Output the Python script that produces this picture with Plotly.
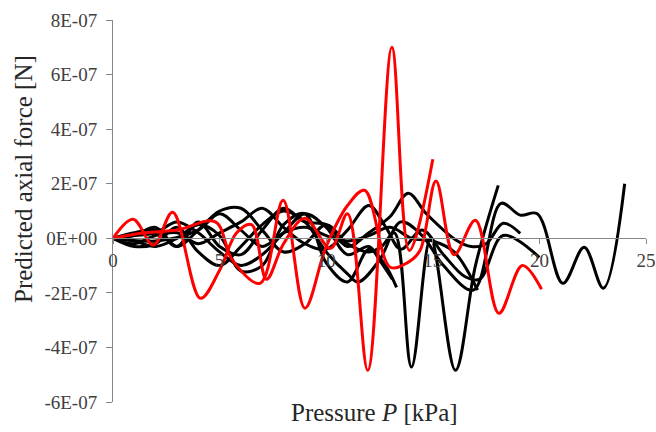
import plotly.graph_objects as go

# Units of y lists: 1e-7 N
red1_x = [0, 0.94, 1.9, 2.8, 4.1, 5.0, 5.8, 6.5, 7.2, 8.0, 9.0, 10.2, 11.0, 11.95, 13.08, 13.9, 15.0]
red1_y = [0, 0.7, -0.25, 0.95, -2.2, -1.17, 0.2, 0.5, -1.5, -0.2, 0.73, -0.37, 0.9, -4.84, 7.0, -0.45, 2.9]

red2_x = [0, 1.5, 3.0, 4.8, 5.6, 6.9, 7.98, 9.0, 10.0, 11.0, 11.8, 13.0, 13.8, 14.4, 15.15, 16.0, 17.0, 18.1, 19.2, 20.1]
red2_y = [0, 0.2, 0.3, 0.6, -0.8, -1.65, 1.39, -2.56, -0.3, 1.2, 1.76, -1.06, -0.9, -0.45, 2.1, -0.6, 0.66, -2.75, -1.0, -1.87]

blk1_x = [0, 1, 2, 3, 4, 5, 6, 7, 8, 9, 10, 11, 11.5, 12.5, 13.5, 14.5, 15.5, 16.9, 18.2, 19.1, 19.9, 21.1, 22.1, 23.0, 24.0]
blk1_y = [0, -0.3, -0.2, 0.4, -0.5, -1.0, -0.3, 0.5, 1.0, 0.6, -0.5, -1.3, -1.6, -0.8, 0.6, 0.1, -1.0, -1.9, 1.28, 0.85, 0.9, -1.65, -0.33, -1.83, 2.0]

blk2_x = [0, 1, 2, 3, 4, 5, 6, 7, 8, 9, 10, 11, 12, 12.6, 13.2, 14.0, 14.9, 16.06, 17.0, 18.07]
blk2_y = [0, 0.1, 0.4, -0.3, 0.3, 1.0, 1.1, 0.3, -0.5, -0.2, 0.5, -0.2, -0.5, -0.3, 0.2, -4.72, 0.0, -4.84, -1.0, 1.94]

blk3_x = [0, 1, 2, 3, 4, 5, 6, 7, 8, 9, 10, 11, 12, 13, 13.85, 14.7, 16.1, 16.8, 17.5, 18.3, 19.1]
blk3_y = [0, 0.2, 0.3, -0.3, 0.6, -0.3, -0.6, 0.3, 1.1, 0.6, 0.5, -0.3, 0.2, 0.8, 1.65, 0.9, -0.07, -0.3, -0.2, 0.55, 0.18]

blk4_x = [0, 1, 2, 3, 4, 5, 6, 7, 8, 9, 10, 11, 12, 12.8, 13.5, 14.5, 15.5, 16.5, 17.2, 18.3, 20.0]
blk4_y = [0, -0.2, 0.1, 0.2, -0.2, 0.2, 0.6, 1.1, 0.4, -0.2, -0.4, 0.3, 1.2, 0.4, -0.4, 0.3, -0.6, -1.4, -1.5, 0.1, -0.7]

blk5_x = [0, 1, 2, 3, 4, 5, 6, 7, 8, 9, 10, 11, 12, 12.5, 13.1]
blk5_y = [0, 0.1, 0.2, 0.6, 0.2, -0.5, -1.0, -0.6, 0.2, 0.9, 0.4, -0.6, -0.3, -0.8, -1.5]

blk6_x = [0, 2, 4, 5, 6, 7, 8, 9, 10, 11, 12, 13, 14, 15, 16, 17.1]
blk6_y = [0, -0.1, 0.3, 0.9, 0.3, -0.3, 0.2, 0.4, 0.1, -0.1, 0.1, 0.4, 0.0, -0.1, -0.5, -1.9]

blk7_x = [0, 1, 2, 3, 4, 5, 6, 7, 8, 9, 10, 11, 12, 12.7, 13.3]
blk7_y = [0, -0.1, -0.3, 0.0, 0.5, 0.1, -1.2, -1.0, 0.5, 0.9, -0.9, -1.6, -0.4, -0.9, -1.8]

y_tickvals = [-6, -4, -2, 0, 2, 4, 6, 8]
y_ticktext = ["-6E-07", "-4E-07", "-2E-07", "0E+00", "2E-07", "4E-07", "6E-07", "8E-07"]
x_tickvals = [0, 5, 10, 15, 20, 25]

SCALE = 1e-7

series = [
    (blk1_x, blk1_y, "black"), (blk2_x, blk2_y, "black"), (blk3_x, blk3_y, "black"),
    (blk4_x, blk4_y, "black"), (blk5_x, blk5_y, "black"), (blk6_x, blk6_y, "black"),
    (blk7_x, blk7_y, "black"),
    (red1_x, red1_y, "#ff0000"), (red2_x, red2_y, "#ff0000"),
]

fig = go.Figure()
for xs, ys, col in series:
    fig.add_trace(go.Scatter(x=xs, y=[v * SCALE for v in ys], mode="lines",
                             line=dict(color=col, width=3, shape="spline", smoothing=1.0),
                             showlegend=False, hoverinfo="skip"))

font_serif = "Liberation Serif"
fig.update_layout(
    width=656, height=432,
    margin=dict(l=113, r=10, t=20, b=30, autoexpand=False),
    paper_bgcolor="white", plot_bgcolor="white",
    font=dict(family=font_serif, color="#404040"),
    xaxis=dict(range=[0, 25], tickvals=x_tickvals, ticktext=[str(v) for v in x_tickvals],
               showgrid=False, zeroline=False, showline=True, linecolor="#868686", linewidth=1,
               ticks="outside", ticklen=5, tickcolor="#868686", automargin=False,
               anchor="free", position=6 / 14, tickfont=dict(size=19, family=font_serif, color="#404040")),
    yaxis=dict(range=[-6 * SCALE, 8 * SCALE], tickvals=[v * SCALE for v in y_tickvals], ticktext=y_ticktext,
               showgrid=False, zeroline=False, showline=True, linecolor="#868686", linewidth=1,
               ticks="outside", ticklen=6, tickcolor="#868686", domain=[0, 1], automargin=False,
               ticklabelstandoff=5,
               tickfont=dict(size=19, family=font_serif, color="#404040")),
    annotations=[
        dict(text="Pressure <i>P</i> [kPa]", xref="paper", yref="paper", x=0.49, y=-0.027,
             xanchor="center", yanchor="middle", showarrow=False,
             font=dict(size=25, family=font_serif, color="#262626")),
        dict(text="Predicted axial force [N]", xref="paper", yref="paper", x=-0.168, y=0.585,
             xanchor="center", yanchor="middle", textangle=-90, showarrow=False,
             font=dict(size=25, family=font_serif, color="#262626")),
    ],
)

fig.write_html("out.html")
